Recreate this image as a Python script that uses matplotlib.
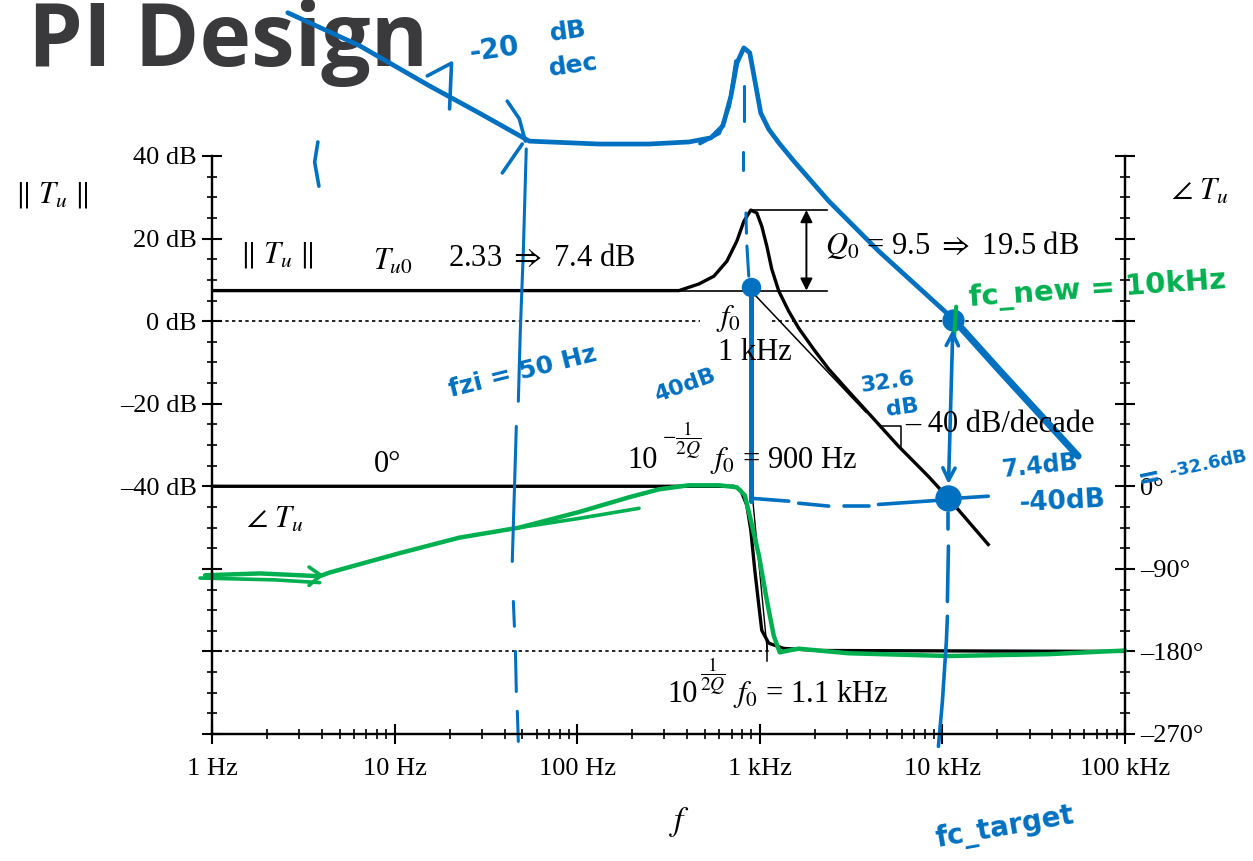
import matplotlib
matplotlib.use('Agg')
import matplotlib.pyplot as plt
from matplotlib.ticker import FixedLocator, FixedFormatter, NullFormatter, LogLocator, MultipleLocator

plt.rcParams['font.family'] = ['Liberation Serif', 'DejaVu Serif']
plt.rcParams['mathtext.fontset'] = 'stix'

BLUE = '#0070c0'
GREEN = '#00b050'

# axis ticks
freq_ticks = [1, 10, 100, 1e3, 1e4, 1e5]
freq_labels = ['1 Hz', '10 Hz', '100 Hz', '1 kHz', '10 kHz', '100 kHz']
db_ticks = [-100, -80, -60, -40, -20, 0, 20, 40]
db_labels = ['', '', '', '\u201340 dB', '\u201320 dB', '0 dB', '20 dB', '40 dB']
deg_ticks = [-270, -180, -90, 0, 90, 180, 270, 360]
deg_labels = ['\u2013270\u00b0', '\u2013180\u00b0', '\u201390\u00b0', '0\u00b0', '', '', '', '']

# plant magnitude ||Tu|| (Hz, dB)
mag_f = [1, 361, 464, 561, 660, 749, 818, 893, 963, 1025, 1092, 1163, 1270, 1440,
         1633, 1972, 2383, 3063, 3942, 5750, 8380, 10790, 13870, 17830]
mag_db = [7.4, 7.4, 9.0, 10.9, 14.5, 19.4, 24.2, 26.9, 26.2, 23.0, 18.2, 12.6, 7.3, 2.4,
          -1.7, -6.8, -11.6, -17.0, -22.3, -30.3, -37.6, -42.9, -48.5, -54.1]
asym_f = [893, 3800]
asym_db = [7.4, -22.0]
tu0_db = 7.4
peak_db = 26.9
ref_f = [361, 2320]
q_arrow_f = 1800
slope_mark_f = [4645, 5970, 5970]
slope_mark_db = [-25.5, -25.5, -30.3]

# plant phase (Hz, deg)
ph_f = [1, 721, 787, 849, 893, 939, 988, 1025, 1119, 1352, 2100, 1e5]
ph_deg = [0, 0, -4.4, -20.7, -48, -91.6, -130, -157, -171, -176.7, -179, -180]
ph_asym_f = [900, 1100]
ph_asym_deg = [0, -180]
f_lo, f_hi = 900, 1100

# hand sketch: loop gain (Hz, dB)
lg_f = [2.6, 6.44, 15.5, 29.1, 54.7, 132, 247, 409, 540, 628, 695, 749, 818, 881,
        951, 1012, 1119, 1270, 1534, 2383, 4467, 11480, 20230, 55350]
lg_db = [74.7, 66.7, 57.0, 50.4, 43.6, 42.9, 42.9, 43.4, 44.4, 47.3, 54.5, 62.5, 66.2, 65.0,
         57.0, 50.4, 46.5, 43.2, 38.8, 29.1, 17.0, 0.5, -11.6, -32.7]
lg2_f = [470, 600, 680, 740]
lg2_db = [43.0, 45.5, 52.0, 63.0]
slope20_f = [15.1, 20.5, 20.0]
slope20_db = [59.4, 62.5, 51.4]
arc_f = [41.4, 48.2, 52.0]
arc_db = [53.3, 49.0, 43.6]
tick_f = [38.9, 50.0]
tick_db = [35.9, 42.9]
paren_f = [3.80, 3.65, 3.85]
paren_db = [43.4, 38.5, 32.7]

# f_zi = 50 Hz guide
fzi_parts = [([52.6, 50.7, 48.8, 47.6], [41.7, 17.0, -2.4, -19.4]),
             ([46.4, 44.1], [-25.5, -58.2]),
             ([44.7, 45.3], [-67.9, -73.9]),
             ([45.9, 46.4], [-80.0, -89.7]),
             ([47.0, 47.6], [-94.5, -101.8])]

# f0 guide under the resonance peak
f0_dash = [([818, 818], [57.0, 48.5]), ([810, 810], [41.0, 36.5]),
           ([840, 845], [26.2, 21.3]), ([850, 870], [18.2, 10.9])]
f0_arrow_f = [893, 893]
f0_arrow_db = [-43.6, 6.0]
f0_dot = (900, 8.3)

# horizontal guide at the plant gain near 10 kHz
hz_parts = [([893, 1440], [-42.9, -43.6]), ([1633, 2383], [-44.1, -44.8]),
            ([2878, 3942], [-44.8, -44.8]), ([4467, 9510], [-44.4, -43.4]),
            ([11930, 17830], [-42.9, -42.4])]

# crossover and fc_target
cross_dot = (11480, 0.3)
low_dot = (10790, -42.9)
cross_arrow = ((11400, -2.0), (10800, -39.5))
fct_parts = [([10790, 10790], [-46.5, -50.4]),
             ([10790, 10650], [-54.5, -67.9]),
             ([10650, 10510, 10000, 9510], [-71.5, -77.6, -92.1, -103.0])]

# hand sketch: phase (Hz, deg)
gp_f = [0.916, 1.83, 3.89, 4.41, 10.6, 22.6, 48.2, 102.5, 192, 281, 409, 597, 749, 828,
        893, 988, 1092, 1193, 1286, 1440, 1633, 3063, 10790, 37960, 1e5]
gp_deg = [-97, -95, -98, -94, -73, -56, -45, -28, -12, -3.3, 1.1, 1.1, -1.1, -9.8,
          -37, -75, -124, -163, -181, -179, -177, -182, -185, -183, -179]
gp2_f = [48.2, 102.5, 218]
gp2_deg = [-45, -35, -24]
gp3_f = [0.86, 2.2, 3.89]
gp3_deg = [-100, -102, -105]
gp_head_f = [3.4, 3.95, 3.4]
gp_head_deg = [-88, -97, -108]
cross_mark_f = [11900, 11600]
cross_mark_db = [3.5, -3.5]

W, H = 1253, 861
fig = plt.figure(figsize=(W / 100, H / 100), dpi=100)
ax = fig.add_axes([212 / W, 1 - 734 / H, (1125 - 212) / W, (734 - 156) / H])
ax2 = ax.twinx()
ax.set_zorder(ax2.get_zorder() + 1)
ax.patch.set_visible(False)


def px(x, y):
    return x / W, 1 - y / H


def stroke(a, xs, ys, color, lw, **kw):
    a.plot(xs, ys, color=color, lw=lw, solid_capstyle='round',
           solid_joinstyle='round', clip_on=False, **kw)


ax.set_xscale('log')
ax.set_xlim(1, 1e5)
ax.set_ylim(-100, 40)
ax2.set_ylim(-270, 360)

ax.xaxis.set_major_locator(FixedLocator(freq_ticks))
ax.xaxis.set_major_formatter(FixedFormatter(freq_labels))
ax.xaxis.set_minor_locator(LogLocator(base=10, subs=range(2, 10)))
ax.xaxis.set_minor_formatter(NullFormatter())
ax.yaxis.set_major_locator(FixedLocator(db_ticks))
ax.yaxis.set_major_formatter(FixedFormatter(db_labels))
ax.yaxis.set_minor_locator(MultipleLocator(5))
ax2.yaxis.set_major_locator(FixedLocator(deg_ticks))
ax2.yaxis.set_major_formatter(FixedFormatter(deg_labels))
ax2.yaxis.set_minor_locator(MultipleLocator(22.5))

for a in (ax, ax2):
    a.spines['top'].set_visible(False)
    for s in ('left', 'right', 'bottom'):
        a.spines[s].set_linewidth(1.6)
    a.tick_params(which='major', direction='inout', length=14, width=1.5, labelsize=19)
    a.tick_params(which='minor', direction='inout', length=7, width=1.2)
ax.tick_params(axis='y', right=False, pad=4)
ax.tick_params(axis='x', pad=10)
ax2.tick_params(axis='y', left=False, right=True, pad=4)

# plant curves
ax.plot(mag_f, mag_db, color='black', lw=2.4)
ax.plot(asym_f, asym_db, color='black', lw=1.1)
ax.plot(ref_f, [tu0_db, tu0_db], color='black', lw=1.2)
ax.plot([893, ref_f[1]], [peak_db, peak_db], color='black', lw=1.2)
ax.annotate('', xy=(q_arrow_f, peak_db), xytext=(q_arrow_f, tu0_db),
            arrowprops=dict(arrowstyle='<|-|>', color='black', lw=1.4,
                            mutation_scale=18, shrinkA=0, shrinkB=0))
ax.plot(slope_mark_f, slope_mark_db, color='black', lw=1.1)
ax.plot([1, 470], [0, 0], color='black', lw=1.2, ls=(0, (2, 2)))
ax.plot([1170, 1e5], [0, 0], color='black', lw=1.2, ls=(0, (2, 2)))

ax2.plot(ph_f, ph_deg, color='black', lw=2.4)
ax2.plot(ph_asym_f, ph_asym_deg, color='black', lw=1.0)
ax2.plot([f_lo, f_lo], [9, -5], color='black', lw=1.1)
ax2.plot([f_hi, f_hi], [-173, -190], color='black', lw=1.1)
ax2.plot([1, 1160], [-180, -180], color='black', lw=1.2, ls=(0, (2, 2)))

# green phase sketch
stroke(ax2, gp_f, gp_deg, GREEN, 3.2)
stroke(ax2, gp2_f, gp2_deg, GREEN, 2.6)
stroke(ax2, gp3_f, gp3_deg, GREEN, 2.6)
stroke(ax2, gp_head_f, gp_head_deg, GREEN, 2.6)

# blue sketch of the loop gain
stroke(ax, lg_f, lg_db, BLUE, 3.4)
stroke(ax, lg2_f, lg2_db, BLUE, 2.6)
stroke(ax, lg_f[-3:], lg_db[-3:], BLUE, 5.0)
stroke(ax, slope20_f, slope20_db, BLUE, 2.6)
stroke(ax, arc_f, arc_db, BLUE, 2.6)
stroke(ax, tick_f, tick_db, BLUE, 2.6)
stroke(ax, paren_f, paren_db, BLUE, 2.6)
for xs, ys in fzi_parts:
    stroke(ax, xs, ys, BLUE, 2.2)
for xs, ys in f0_dash:
    stroke(ax, xs, ys, BLUE, 2.2)
stroke(ax, f0_arrow_f, f0_arrow_db, BLUE, 3.6)
for xs, ys in hz_parts:
    stroke(ax, xs, ys, BLUE, 2.6)
for xs, ys in fct_parts:
    stroke(ax, xs, ys, BLUE, 2.6)
ax.annotate('', xy=cross_arrow[0], xytext=cross_arrow[1],
            arrowprops=dict(arrowstyle='<->', color=BLUE, lw=2.6,
                            mutation_scale=22, shrinkA=0, shrinkB=0))
ax.plot(*f0_dot, 'o', color=BLUE, ms=13, clip_on=False)
ax.plot(*cross_dot, 'o', color=BLUE, ms=15, clip_on=False)
ax.plot(*low_dot, 'o', color=BLUE, ms=18, clip_on=False)
stroke(ax, cross_mark_f, cross_mark_db, GREEN, 3.0)

# labels
fig.text(*px(28, 66), 'PI Design', fontsize=63, fontweight='bold', family='Open Sans',
         color='#3a3a3c', ha='left', va='baseline', zorder=-1)
fs = 22
fig.text(*px(52, 195), r'$\Vert\ T_u\ \Vert$', fontsize=fs, ha='center', va='center')
fig.text(*px(1200, 192), r'$\angle\ T_u$', fontsize=fs, ha='center', va='center')
fig.text(*px(277, 255), r'$\Vert\ T_u\ \Vert$', fontsize=fs, ha='center', va='center')
fig.text(*px(393, 262), r'$T_{u0}$', fontsize=fs, ha='center', va='center')
fig.text(*px(448, 258), '2.33 $\\Rightarrow$ 7.4 dB', fontsize=fs, ha='left', va='center')
fig.text(*px(825, 245), '$Q_0$ = 9.5 $\\Rightarrow$ 19.5 dB', fontsize=fs, ha='left', va='center')
fig.text(*px(729, 318), '$f_0$', fontsize=fs, ha='center', va='center')
fig.text(*px(755, 352), '1 kHz', fontsize=fs, ha='center', va='center')
fig.text(*px(905, 425), '\u2013 40 dB/decade', fontsize=fs, ha='left', va='center')
# 10^(-1/2Q) f0 = 900 Hz
fig.text(*px(627, 460), '10', fontsize=fs, ha='left', va='center')
fig.text(*px(662, 440), r'$-\dfrac{1}{2Q}$', fontsize=14, ha='left', va='center')
fig.text(*px(710, 460), '$f_0$ = 900 Hz', fontsize=fs, ha='left', va='center')
fig.text(*px(388, 465), '0\u00b0', fontsize=fs, ha='center', va='center')
fig.text(*px(275, 520), r'$\angle\ T_u$', fontsize=fs, ha='center', va='center')
# 10^(1/2Q) f0 = 1.1 kHz
fig.text(*px(667, 694), '10', fontsize=fs, ha='left', va='center')
fig.text(*px(700, 676), r'$\dfrac{1}{2Q}$', fontsize=14, ha='left', va='center')
fig.text(*px(733, 694), '$f_0$ = 1.1 kHz', fontsize=fs, ha='left', va='center')
fig.text(*px(680, 822), '$f$', fontsize=24, ha='center', va='center')

# handwritten notes
hw = dict(family='DejaVu Sans', fontweight='bold', color=BLUE, ha='center', va='center')
fig.text(*px(494, 50), '-20', fontsize=20, rotation=8, **hw)
fig.text(*px(568, 32), 'dB', fontsize=18, rotation=8, **hw)
fig.text(*px(574, 66), 'dec', fontsize=18, rotation=8, **hw)
fig.text(*px(523, 372), 'fzi = 50 Hz', fontsize=18, rotation=14, **hw)
fig.text(*px(685, 385), '40dB', fontsize=16, rotation=20, **hw)
fig.text(*px(888, 382), '32.6', fontsize=16, rotation=8, **hw)
fig.text(*px(902, 408), 'dB', fontsize=16, rotation=8, **hw)
fig.text(*px(1040, 466), '7.4dB', fontsize=17, rotation=6, **hw)
fig.text(*px(1062, 502), '-40dB', fontsize=19, rotation=3, **hw)
fig.text(*px(1150, 478), '=', fontsize=20, rotation=12, **hw)
fig.text(*px(1168, 464), '-32.6dB', fontsize=13, rotation=12,
         family='DejaVu Sans', fontweight='bold', color=BLUE, ha='left', va='center')
fig.text(*px(968, 290), 'fc_new = 10kHz', fontsize=21, rotation=4,
         family='DejaVu Sans', fontweight='bold', color=GREEN, ha='left', va='center')
fig.text(*px(1005, 828), 'fc_target', fontsize=20, rotation=10, **hw)

fig.savefig('out.png', dpi=100)
